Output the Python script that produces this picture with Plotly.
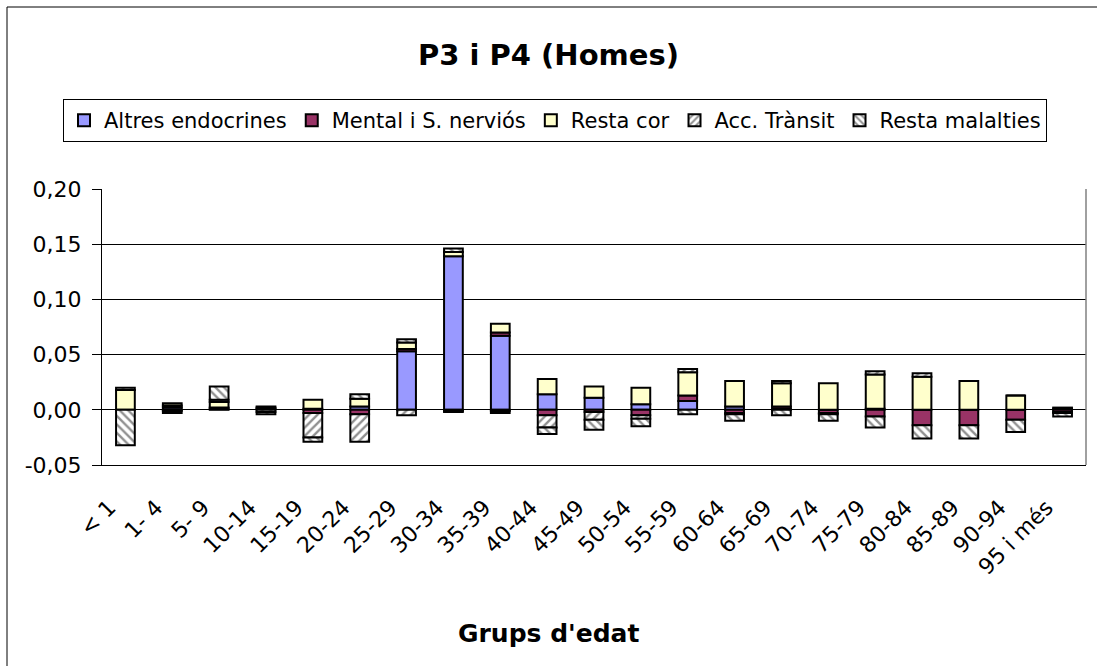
"""P3 i P4 (Homes): barres apilades per grups d'edat."""

import plotly.graph_objects as go

# grups d'edat
categories = [
    "< 1", "1- 4", "5- 9", "10-14", "15-19", "20-24", "25-29", "30-34",
    "35-39", "40-44", "45-49", "50-54", "55-59", "60-64", "65-69", "70-74",
    "75-79", "80-84", "85-89", "90-94", "95 i més",
]

# valors per sèrie (llegits del gràfic)
altres_endocrines = [
    0.000, 0.002, 0.001, 0.001, 0.001, 0.003, 0.053, 0.139, 0.067, 0.014,
    0.011, 0.005, 0.008, 0.003, 0.001, 0.000, 0.001, 0.000, 0.000, 0.000, 0.001,
]
mental_nervios = [
    0.000, 0.002, 0.001, 0.001, -0.003, -0.004, 0.002, -0.001, 0.003, -0.005,
    -0.002, -0.005, 0.005, -0.003, 0.002, -0.003, -0.006, -0.014, -0.014, -0.009, -0.002,
]
resta_cor = [
    0.018, 0.002, 0.005, 0.001, 0.008, 0.007, 0.006, 0.004, 0.008, 0.014,
    0.010, 0.015, 0.021, 0.023, 0.021, 0.024, 0.031, 0.030, 0.026, 0.013, 0.001,
]
acc_transit = [
    0.002, -0.001, 0.002, -0.002, -0.022, -0.025, -0.005, -0.001, -0.001, -0.011,
    -0.007, -0.003, 0.003, -0.001, 0.002, -0.001, 0.003, 0.003, 0.000, 0.000, -0.001,
]
resta_malalties = [
    -0.032, -0.002, 0.012, -0.002, -0.004, 0.004, 0.003, 0.003, -0.002, -0.006,
    -0.009, -0.007, -0.004, -0.006, -0.005, -0.006, -0.010, -0.012, -0.012, -0.011, -0.003,
]

# eix Y: valors i etiquetes (guionet normal, com a l'original)
y_ticks = [-0.05, 0.00, 0.05, 0.10, 0.15, 0.20]
y_tick_labels = ["-0,05", "0,00", "0,05", "0,10", "0,15", "0,20"]

# colors i patrons
_FONT = "DejaVu Sans"
_OUTLINE = dict(color="black", width=2)

series = [
    ("Altres endocrines", altres_endocrines, dict(color="#9999FF")),
    ("Mental i S. nerviós", mental_nervios, dict(color="#993366")),
    ("Resta cor", resta_cor, dict(color="#FFFFCC")),
    ("Acc. Trànsit", acc_transit, dict(
        color="white",
        pattern=dict(shape="/", fgcolor="#222222", bgcolor="white",
                     size=6, solidity=0.4),
    )),
    ("Resta malalties", resta_malalties, dict(
        color="white",
        pattern=dict(shape="\\", fgcolor="#222222", bgcolor="white",
                     size=6, solidity=0.4),
    )),
]

fig = go.Figure()
for name, values, marker in series:
    fig.add_trace(go.Bar(
        x=categories,
        y=values,
        name=name,
        marker=dict(line=_OUTLINE, **marker),
    ))

# geometria de l'àrea de dibuix (px)
W, H = 1097, 666
L, R, T, B = 102, 11, 189, 201
pw, ph = W - L - R, H - T - B


def px_x(p):
    return (p - L) / pw


def px_y(p):
    return (H - B - p) / ph


fig.update_layout(
    width=W,
    height=H,
    margin=dict(l=L, r=R, t=T, b=B),
    paper_bgcolor="white",
    plot_bgcolor="white",
    barmode="relative",
    bargap=0.6,
    font=dict(family=_FONT, size=21, color="black"),
    title=dict(
        text="<b>P3 i P4 (Homes)</b>",
        font=dict(family=_FONT, size=29, color="black"),
        x=0.5, xref="container", xanchor="center",
        y=1 - 55 / H, yref="container", yanchor="middle",
    ),
    legend=dict(
        orientation="h",
        x=px_x(555), xanchor="center",
        y=px_y(99), yanchor="top",
        bordercolor="black", borderwidth=1,
        bgcolor="white",
        font=dict(family=_FONT, size=21),
        itemwidth=30,
        traceorder="normal",
    ),
    xaxis=dict(
        type="category",
        tickangle=-45,
        showline=True, linecolor="black", linewidth=1,
        showgrid=False,
        ticks="",
        ticklabelstandoff=20,
        ticklabelshift=-16,
        tickfont=dict(size=22),
    ),
    yaxis=dict(
        range=[-0.05, 0.20],
        tickmode="array",
        tickvals=y_ticks,
        ticktext=y_tick_labels,
        showgrid=True, gridcolor="black", gridwidth=1,
        zeroline=False,
        showline=True, linecolor="black", linewidth=1,
        ticks="outside", ticklen=9, tickcolor="black",
        ticklabelstandoff=6,
        tickfont=dict(size=22),
    ),
    annotations=[dict(
        text="<b>Grups d'edat</b>",
        xref="paper", yref="paper",
        x=px_x(548.5), y=px_y(633),
        xanchor="center", yanchor="middle",
        showarrow=False,
        font=dict(family=_FONT, size=25, color="black"),
    )],
    shapes=[
        # marc exterior
        dict(type="rect", xref="paper", yref="paper",
             x0=px_x(7), x1=px_x(1100), y0=px_y(672), y1=px_y(7),
             line=dict(color="black", width=1), layer="below"),
        # vora dreta de l'àrea de dibuix
        dict(type="line", xref="paper", yref="paper",
             x0=1, x1=1, y0=0, y1=1,
             line=dict(color="#808080", width=1.5)),
    ],
)

fig.write_html(
    "out.html",
    config={"displayModeBar": False},
    post_script="document.body.style.margin='0';",
)
